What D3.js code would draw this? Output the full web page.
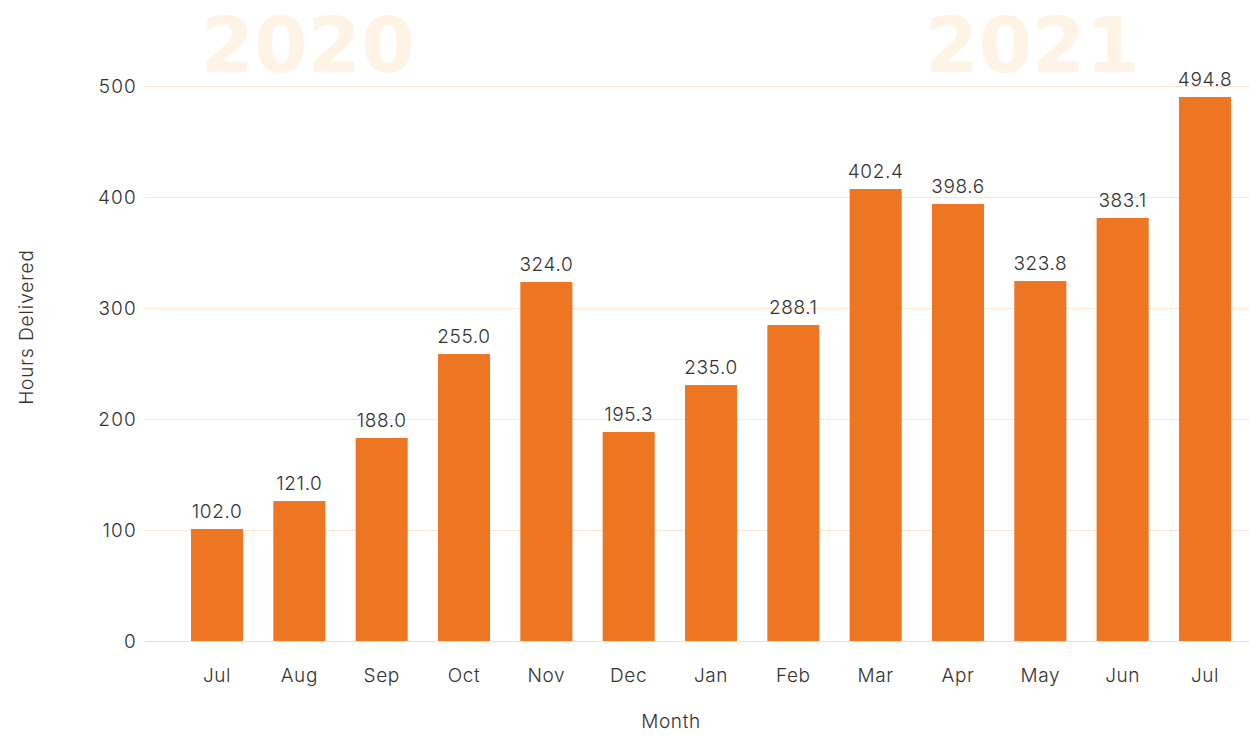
<!DOCTYPE html>
<html>
<head>
<meta charset="utf-8">
<script src="https://cdn.jsdelivr.net/npm/d3@7"></script>
<style>
    body { margin: 0; background: #fff; }
    svg { font-family: Inter, Lato, sans-serif; }
</style>
</head>
<body>
<svg width="1249" height="737"></svg>
<script>
const months = ["Jul", "Aug", "Sep", "Oct", "Nov", "Dec", "Jan", "Feb", "Mar", "Apr", "May", "Jun", "Jul"];
// bar heights as drawn in the picture
const barValues = [100.9, 126.1, 182.9, 258.6, 323.4, 188.3, 230.6, 284.7, 407.2, 393.7, 324.3, 381.1, 490.1];
// labels printed above the bars
const labelValues = [102.0, 121.0, 188.0, 255.0, 324.0, 195.3, 235.0, 288.1, 402.4, 398.6, 323.8, 383.1, 494.8];
const yTicks = [0, 100, 200, 300, 400, 500];
const years = [{label: "2020", at: 1.1}, {label: "2021", at: 9.9}];

const width = 1249;
const height = 737;
const svg = d3.select("svg");

const keys = months.map((m, i) => i);

const x = d3.scaleBand()
    .domain(keys)
    .range([160.7, 1261.3])
    .paddingInner(0.368)
    .paddingOuter(0.368);

const y = d3.scaleLinear()
    .domain([0, 500])
    .range([641, 86]);

const textColor = "#333";

// faint year labels behind everything
svg.selectAll(".year")
    .data(years)
    .join("text")
    .attr("class", "year")
    .attr("x", d => x(0) + x.step() * d.at + x.bandwidth() / 2)
    .attr("y", 72)
    .attr("text-anchor", "middle")
    .attr("font-family", "'DejaVu Sans', sans-serif")
    .attr("font-size", 77)
    .attr("font-weight", "bold")
    .attr("fill", "#fef3e4")
    .text(d => d.label);

// gridlines
svg.selectAll(".grid")
    .data(yTicks)
    .join("line")
    .attr("x1", 145)
    .attr("x2", width)
    .attr("y1", d => y(d) + 0.5)
    .attr("y2", d => y(d) + 0.5)
    .attr("stroke", d => d === 0 ? "#f6dcc4" : "#fde4cb")
    .attr("stroke-width", 1);

// y tick labels
svg.selectAll(".ytick")
    .data(yTicks)
    .join("text")
    .attr("x", 137)
    .attr("y", d => y(d))
    .attr("dy", "0.35em")
    .attr("text-anchor", "end")
    .attr("font-size", 19)
    .attr("font-weight", 300)
    .attr("letter-spacing", 1.2)
    .attr("fill", textColor)
    .text(d => d);

// bars
svg.selectAll(".bar")
    .data(barValues)
    .join("rect")
    .attr("x", (d, i) => x(i))
    .attr("y", d => y(d))
    .attr("width", x.bandwidth())
    .attr("height", d => y(0) - y(d))
    .attr("fill", "#ee7623");

// value labels
svg.selectAll(".val")
    .data(labelValues)
    .join("text")
    .attr("x", (d, i) => x(i) + x.bandwidth() / 2)
    .attr("y", (d, i) => y(barValues[i]) - 11)
    .attr("text-anchor", "middle")
    .attr("font-size", 19)
    .attr("font-weight", 300)
    .attr("letter-spacing", 0.6)
    .attr("fill", textColor)
    .text(d => d.toFixed(1));

// month labels
svg.selectAll(".xtick")
    .data(months)
    .join("text")
    .attr("x", (d, i) => x(i) + x.bandwidth() / 2)
    .attr("y", 682)
    .attr("text-anchor", "middle")
    .attr("font-size", 19)
    .attr("font-weight", 300)
    .attr("letter-spacing", 0.6)
    .attr("fill", textColor)
    .text(d => d);

// axis titles
svg.append("text")
    .attr("x", 671)
    .attr("y", 728)
    .attr("text-anchor", "middle")
    .attr("font-size", 19)
    .attr("font-weight", 300)
    .attr("letter-spacing", 0.6)
    .attr("fill", textColor)
    .text("Month");

svg.append("text")
    .attr("transform", "translate(33,327) rotate(-90)")
    .attr("text-anchor", "middle")
    .attr("font-size", 19)
    .attr("font-weight", 300)
    .attr("letter-spacing", 0.9)
    .attr("fill", textColor)
    .text("Hours Delivered");
</script>
</body>
</html>
